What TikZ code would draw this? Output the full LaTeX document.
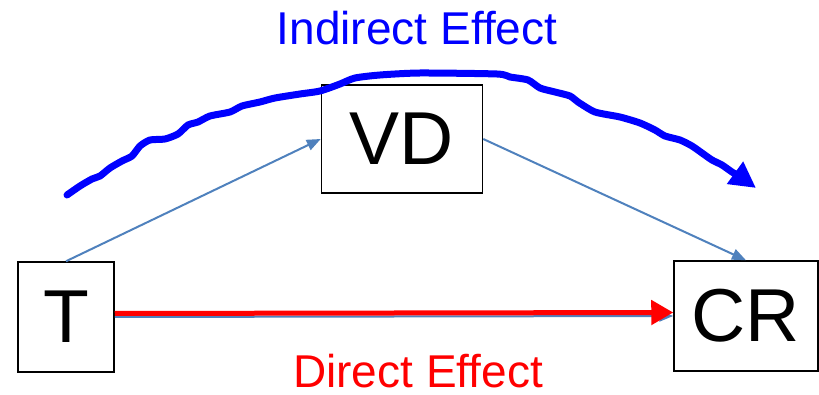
\documentclass[tikz,border=0pt]{standalone}
\usepackage{fontspec}
\setmainfont{Liberation Sans}
\usetikzlibrary{arrows.meta}
\definecolor{pathblue}{HTML}{4F81BD}

\tikzset{
	varbox/.style={draw=black, line width=1.5pt, inner sep=0pt, font=\fontsize{75}{80}\selectfont},
	path/.style={draw=pathblue, line width=2pt, -{Triangle[length=14pt, width=11pt]}},
	effect/.style={inner sep=0pt, anchor=base, font=\fontsize{46}{50}\selectfont}
}

\begin{document}
\begin{tikzpicture}[x=1pt, y=-1pt]
	
	\useasboundingbox (0,0) rectangle (819,395);
	
	% Variables
	\node[varbox, minimum width=96pt, minimum height=110pt] (T) at (66,317) {T};
	\node[varbox, minimum width=161pt, minimum height=108pt] (VD) at (402,139) {VD};
	\node[varbox, minimum width=144pt, minimum height=110pt] (CR) at (746,316) {CR};
	
	% Paths
	\draw[path] (T.north) -- (VD.west);
	\draw[path] (VD.east) -- (CR.north);
	\draw[path] (T.east) -- (CR.west);
	
	% Direct Effect
	\draw[red, line width=5pt, -{Triangle[length=22pt, width=24pt]}] ([yshift=3.5pt]T.east) -- ([yshift=3.5pt]CR.west);
	\node[effect, text=red] (direct) at (418,387) {Direct Effect};
	
	% Indirect Effect
	\coordinate (ieStart) at (67,195);
	\coordinate (ieEnd) at (756,188);
	\draw[blue, line width=7pt, line cap=round, -{Triangle[length=26pt, width=26pt]}] plot[smooth, tension=0.4] coordinates {
		(ieStart) (80,186) (92,179) (100,176) (110,168) (122,161) (132,156) (140,146)
		(150,140) (165,139) (178,134) (188,125) (198,122) (210,116) (230,112) (242,106)
		(260,102) (275,98) (300,94) (320,91) (340,84) (355,78) (380,75) (420,73)
		(497,74) (510,77) (528,80) (540,88) (555,92) (570,96) (578,102) (595,112)
		(620,117) (640,123) (655,130) (665,136) (680,140) (692,146) (702,153) (712,160)
		(722,165) (732,172) (742,178) (ieEnd)};
	\node[effect, text=blue] (indirect) at (417,45) {Indirect Effect};
	
\end{tikzpicture}
\end{document}
